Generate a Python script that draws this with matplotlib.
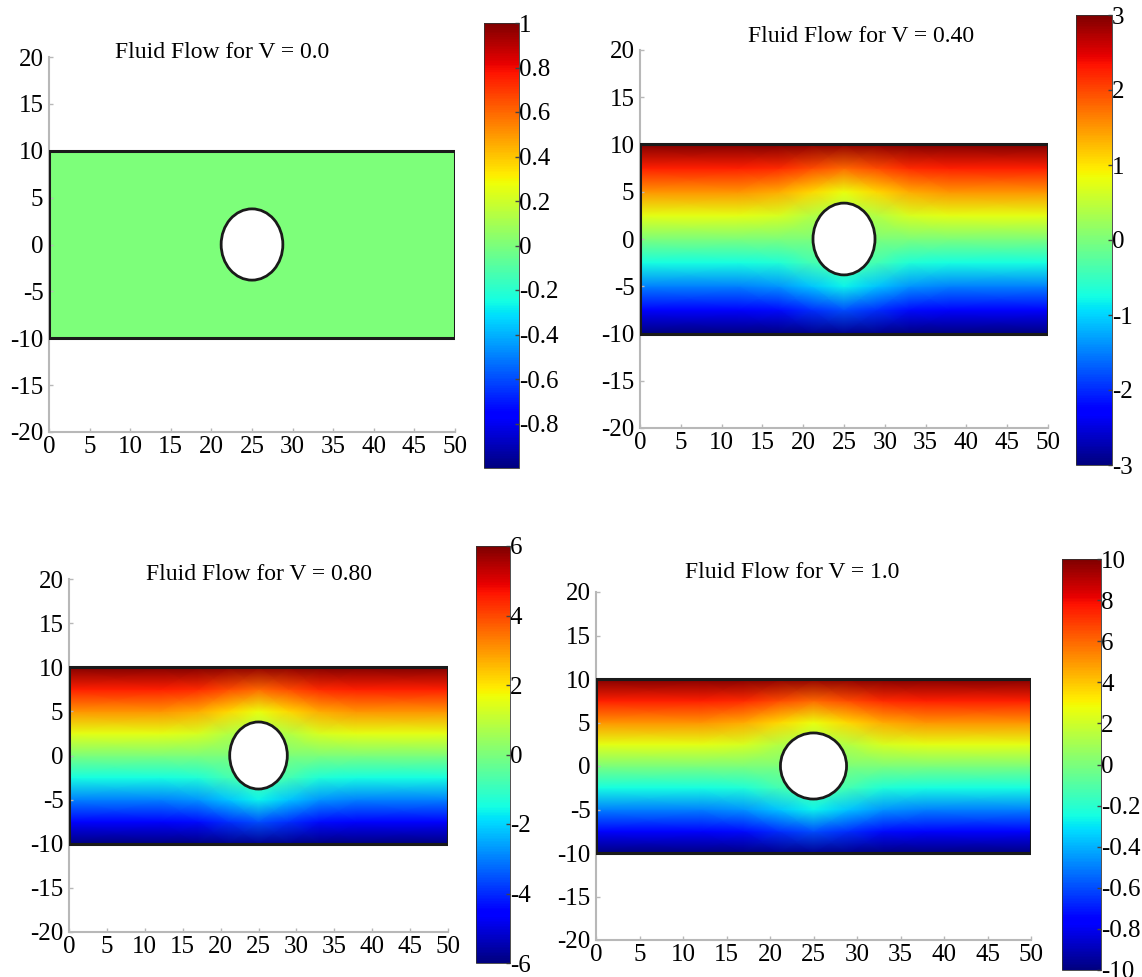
import numpy as np
import matplotlib.pyplot as plt
from matplotlib.patches import Rectangle, Ellipse

plt.rcParams['font.family'] = ['Liberation Serif', 'DejaVu Serif']
plt.rcParams['axes.unicode_minus'] = False

# Panel data
velocities = ["0.0", "0.40", "0.80", "1.0"]
top_values = [0, 3, 6, 10]          # stream value at the upper wall
cbar_limits = [1, 3, 6, 10]
cbar_ticks = [
    [1, 0.8, 0.6, 0.4, 0.2, 0, -0.2, -0.4, -0.6, -0.8],
    [3, 2, 1, 0, -1, -2, -3],
    [6, 4, 2, 0, -2, -4, -6],
    [10, 8, 6, 4, 2, 0, -2, -4, -6, -8, -10],
]
cbar_labels = [
    ["1", "0.8", "0.6", "0.4", "0.2", "0", "-0.2", "-0.4", "-0.6", "-0.8"],
    ["3", "2", "1", "0", "-1", "-2", "-3"],
    ["6", "4", "2", "0", "-2", "-4", "-6"],
    ["10", "8", "6", "4", "2", "0", "-0.2", "-0.4", "-0.6", "-0.8", "-10"],
]

# Normalised field (same shape in every panel)
grid_x = [0, 12, 17, 21, 25, 29, 33, 38, 50]
grid_y = [-10, -7.5, -5, -2.5, 0, 2.5, 5, 7.5, 10]
field_shape = np.array([
    [-1.00, -1.00, -1.00, -0.98, -0.97, -0.98, -1.00, -1.00, -1.00],
    [-0.75, -0.75, -0.73, -0.66, -0.60, -0.66, -0.73, -0.75, -0.75],
    [-0.50, -0.50, -0.46, -0.36, -0.27, -0.36, -0.46, -0.50, -0.50],
    [-0.25, -0.25, -0.22, -0.14, -0.10, -0.14, -0.22, -0.25, -0.25],
    [0.00, 0.00, 0.00, 0.00, 0.00, 0.00, 0.00, 0.00, 0.00],
    [0.25, 0.25, 0.22, 0.14, 0.10, 0.14, 0.22, 0.25, 0.25],
    [0.50, 0.50, 0.46, 0.36, 0.27, 0.36, 0.46, 0.50, 0.50],
    [0.75, 0.75, 0.73, 0.66, 0.60, 0.66, 0.73, 0.75, 0.75],
    [1.00, 1.00, 1.00, 0.98, 0.97, 0.98, 1.00, 1.00, 1.00],
])
cyl_center = (25, 0)
cyl_radius = 3.8

# Layout in pixels of the 1142x977 figure
W, H = 1142, 977
axes_px = [(49, 455, 57, 432), (640, 1048, 50, 428),
           (69, 448, 579, 932), (596, 1031, 592, 940)]
cbar_px = [(484, 519, 23, 468), (1076, 1112, 15, 465),
           (476, 510, 546, 963), (1062, 1101, 559, 970)]
title_px = [(222, 52), (861, 37), (259, 574), (792, 572)]


def box(x0, x1, y0, y1):
    return [x0 / W, 1 - y1 / H, (x1 - x0) / W, (y1 - y0) / H]


fig = plt.figure(figsize=(W / 100, H / 100), dpi=100)
X, Y = np.meshgrid(grid_x, grid_y)
gray = '#b8b8b8'

for i in range(4):
    ax = fig.add_axes(box(*axes_px[i]))
    lim = cbar_limits[i]
    mesh = ax.pcolormesh(X, Y, field_shape * top_values[i], cmap='jet',
                         vmin=-lim, vmax=lim, shading='gouraud', zorder=1)
    ax.add_patch(Rectangle((grid_x[0], grid_y[0]), grid_x[-1] - grid_x[0],
                           grid_y[-1] - grid_y[0], fill=False,
                           ec='#1a1a1a', lw=2.2, zorder=3))
    ax.add_patch(Ellipse(cyl_center, 2 * cyl_radius, 2 * cyl_radius,
                         fc='white', ec='#1a1a1a', lw=2.0, zorder=4))
    ax.set_xlim(0, 50)
    ax.set_ylim(-20, 20)
    ax.set_xticks(np.arange(0, 51, 5))
    ax.set_yticks(np.arange(-20, 21, 5))
    for s in ['top', 'right']:
        ax.spines[s].set_visible(False)
    for s in ['left', 'bottom']:
        ax.spines[s].set_color(gray)
        ax.spines[s].set_linewidth(1.5)
    ax.tick_params(direction='in', length=3, width=1, color=gray,
                   labelsize=18, pad=4)
    ax.tick_params(axis='x', pad=3)

    fig.text(title_px[i][0] / W, 1 - title_px[i][1] / H,
             f"Fluid Flow for V = {velocities[i]}",
             ha='center', va='center', fontsize=17)

    cax = fig.add_axes(box(*cbar_px[i]))
    cb = fig.colorbar(mesh, cax=cax)
    cb.set_ticks(cbar_ticks[i])
    cb.set_ticklabels(cbar_labels[i])
    cb.outline.set_linewidth(0.6)
    cb.outline.set_edgecolor('#333333')
    cax.tick_params(direction='in', length=3, width=1, color='#444444',
                    labelsize=18, pad=0)

fig.savefig('out.png', dpi=100)
